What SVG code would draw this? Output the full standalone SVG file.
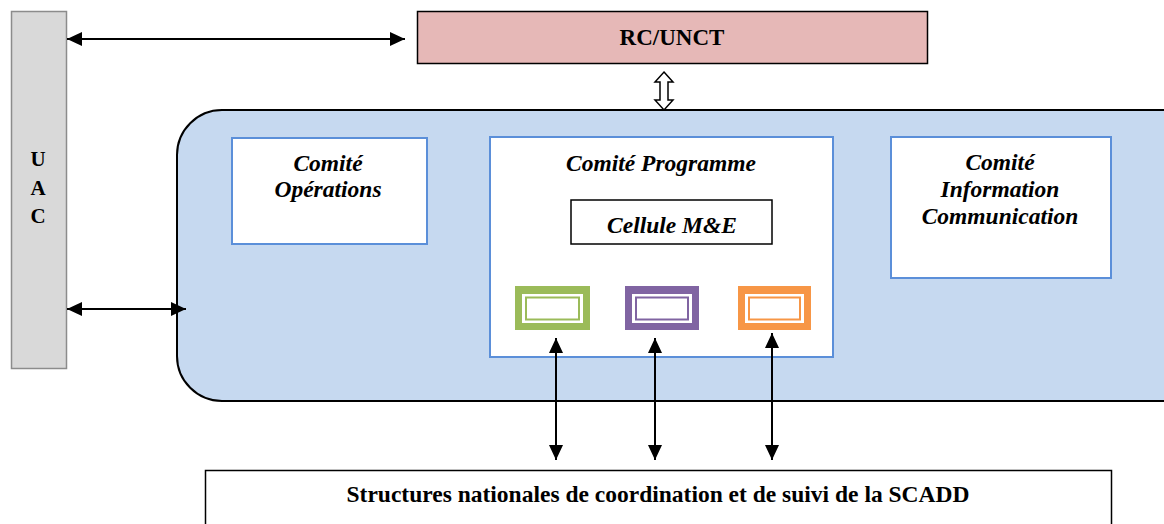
<svg xmlns="http://www.w3.org/2000/svg" width="1164" height="524" viewBox="0 0 1164 524">
<defs>
<marker id="ah" viewBox="0 0 15 14" refX="15" refY="7" markerWidth="15" markerHeight="14" markerUnits="userSpaceOnUse" orient="auto-start-reverse">
<path d="M0,0 L15,7 L0,14 Z" fill="#000"/>
</marker>
<style>
.t{font-family:"Liberation Serif","Times New Roman",serif;font-weight:bold;fill:#000}
.it{font-style:italic;font-size:23.5px}
.blue{fill:#fff;stroke:#5b8fd9;stroke-width:2}
.conn{stroke:#000;stroke-width:2;fill:none;marker-start:url(#ah);marker-end:url(#ah)}
</style>
</defs>
<rect width="1164" height="524" fill="#fff"/>
<g id="uac">
<rect x="11.5" y="11.5" width="55" height="357" fill="#d9d9d9" stroke="#8c8c8c" stroke-width="1.5"/>
<text class="t" font-size="21" text-anchor="middle" x="38" y="166">U</text>
<text class="t" font-size="21" text-anchor="middle" x="38" y="195">A</text>
<text class="t" font-size="21" text-anchor="middle" x="38" y="223">C</text>
</g>
<g id="rc-unct">
<rect x="417.5" y="11.5" width="510" height="52" fill="#e6b8b7" stroke="#000" stroke-width="1.5"/>
<text class="t" font-size="23" text-anchor="middle" x="672" y="45">RC/UNCT</text>
</g>
<g id="system">
<rect x="177" y="110" width="1030" height="291" rx="45" ry="45" fill="#c6d9f0" stroke="#000" stroke-width="2"/>
</g>
<g id="comite-operations">
<rect class="blue" x="232" y="138" width="195" height="106"/>
<text class="t it" text-anchor="middle" x="328" y="171">Comité</text>
<text class="t it" text-anchor="middle" x="328" y="197">Opérations</text>
</g>
<g id="comite-programme">
<rect class="blue" x="490" y="137" width="343" height="220"/>
<text class="t it" text-anchor="middle" x="661" y="171">Comité Programme</text>
</g>
<g id="cellule-me">
<rect x="571" y="200" width="201" height="44" fill="#fff" stroke="#000" stroke-width="1.5"/>
<text class="t it" text-anchor="middle" x="672" y="233">Cellule M&amp;E</text>
</g>
<g id="comite-information">
<rect class="blue" x="891" y="137" width="220" height="141"/>
<text class="t it" text-anchor="middle" x="1000" y="170">Comité</text>
<text class="t it" text-anchor="middle" x="1000" y="197">Information</text>
<text class="t it" text-anchor="middle" x="1000" y="224">Communication</text>
</g>
<g id="unit-green">
<rect x="515" y="286" width="75" height="44" fill="#9bbb59"/>
<rect x="522" y="294" width="61" height="29" fill="#fff"/>
<rect x="526" y="297.5" width="53" height="22" fill="#fff" stroke="#9bbb59" stroke-width="2"/>
</g>
<g id="unit-purple">
<rect x="625" y="286" width="74" height="44" fill="#8064a2"/>
<rect x="632" y="294" width="60" height="29" fill="#fff"/>
<rect x="636" y="297.5" width="52" height="22" fill="#fff" stroke="#8064a2" stroke-width="2"/>
</g>
<g id="unit-orange">
<rect x="738" y="286" width="73" height="44" fill="#f79646"/>
<rect x="745" y="294" width="59" height="29" fill="#fff"/>
<rect x="749" y="297.5" width="51" height="22" fill="#fff" stroke="#f79646" stroke-width="2"/>
</g>
<g id="structures-nationales">
<rect x="205.5" y="470.5" width="906" height="70" fill="#fff" stroke="#000" stroke-width="1.5"/>
<text class="t" font-size="23.5" text-anchor="middle" x="658" y="502">Structures nationales de coordination et de suivi de la SCADD</text>
</g>
<g id="connectors">
<line class="conn" x1="67" y1="39" x2="405" y2="39"/>
<line class="conn" x1="67" y1="309" x2="186" y2="309"/>
<line class="conn" x1="556" y1="338" x2="556" y2="460"/>
<line class="conn" x1="655" y1="338" x2="655" y2="460"/>
<line class="conn" x1="772" y1="333" x2="772" y2="460"/>
<path d="M664,72 L673,82 L668,82 L668,100 L673,100 L664,110 L655,100 L660,100 L660,82 L655,82 Z" fill="#fff" stroke="#000" stroke-width="1.5" stroke-linejoin="miter"/>
</g>
</svg>
